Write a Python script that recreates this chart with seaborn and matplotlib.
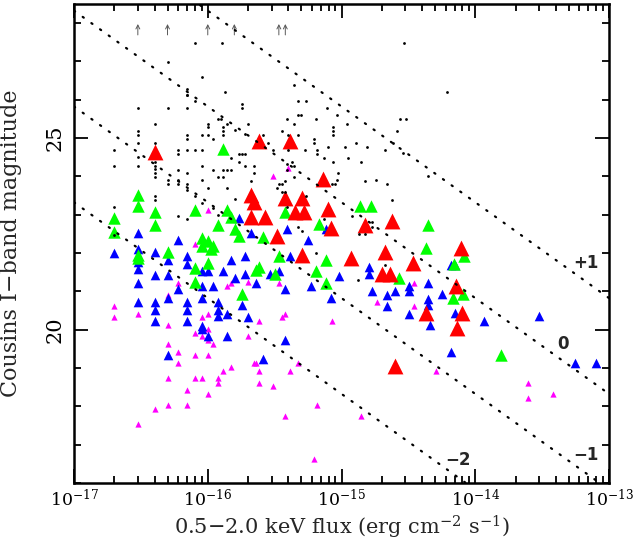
import numpy as np
import pandas as pd
import matplotlib
matplotlib.use("Agg")
import matplotlib.pyplot as plt
import seaborn as sns
from matplotlib.ticker import LogLocator, MultipleLocator, FixedLocator

sns.set_style("ticks")
plt.rcParams["font.family"] = ["DejaVu Serif"]
plt.rcParams["mathtext.fontset"] = "dejavuserif"

# X-ray flux in units of 1e-16 erg/cm2/s, Cousins I magnitude
black_flux = [0.3, 0.5, 0.7, 0.7, 0.8, 1.35, 1.8, 1.8, 0.4, 0.3, 0.3, 0.3, 0.2, 0.2, 0.3, 0.3,
              0.4, 0.4, 0.4, 0.4, 0.4, 0.4, 0.2, 0.2, 0.6, 0.6, 0.6, 0.6, 0.6, 0.7, 0.7, 0.7, 0.7, 0.7, 0.7,
              0.9, 1.0, 1.0, 1.0, 0.9, 0.8, 0.9, 1.1, 1.2, 1.25, 1.3, 1.3, 1.3, 1.4, 1.3, 1.4, 1.5, 1.1,
              1.2, 1.3, 1.4, 1.5, 1.7, 1.8, 1.9, 1.7, 1.9, 1.6, 1.9, 2.0, 0.9, 1.0, 0.8, 0.9, 1.1, 1.2,
              1.6, 0.6, 0.7, 0.5, 0.5, 0.4, 0.4,
              4.7, 5.4, 7.8, 9.2, 4.7, 5.0, 3.9, 4.4, 6.5, 11.0, 8.7, 8.7, 8.7, 3.6, 4.0, 4.7, 6.2, 6.2,
              7.9, 10.6, 12.9, 15.6, 30.5, 25.8, 24.3, 21.0, 2.6, 2.8, 3.1, 4.0, 5.3, 6.6, 6.6, 7.4, 8.6,
              11.1, 14.0, 15.0, 24.0, 2.2, 2.2, 2.1, 3.9, 4.3, 4.4, 3.9, 4.4, 3.8, 3.4, 3.6, 3.3, 5.4,
              8.5, 8.9, 9.4, 9.2, 3.9, 4.7, 5.1, 7.4, 13.5, 17.0, 17.0, 12.0, 29.4, 62.0, 27.5, 29.0,
              44.0, 22.0, 18.0, 15.0, 1.28, 0.8, 0.5, 0.9, 0.7, 0.7, 4.4, 3.6, 6.4, 21.0, 13.3, 3.8]
black_mag = [25.79, 25.79, 25.79, 26.13, 25.98, 26.19, 25.88, 25.79, 25.38, 25.18, 25.09, 24.88,
             24.68, 24.28, 24.50, 24.28, 24.88, 24.38, 24.28, 23.99, 23.48, 23.38, 23.19, 22.47,
             24.68, 24.59, 24.18, 23.90, 23.80, 25.09, 24.98, 24.68, 24.10, 23.80, 23.64,
             25.09, 25.37, 25.28, 25.09, 24.68, 24.68, 24.28, 24.98, 25.50, 25.50, 25.28, 25.18,
             25.09, 25.37, 24.18, 24.18, 24.18, 24.18, 23.99, 23.99, 23.69, 24.49, 24.59, 24.59,
             24.59, 24.38, 24.28, 25.20, 25.10, 25.38, 23.90, 23.69, 23.48, 23.30, 23.17, 23.00,
             23.40, 22.98, 22.90, 23.90, 23.80, 24.20, 24.10,
             25.98, 25.98, 25.79, 25.59, 25.59, 25.59, 25.49, 25.38, 25.49, 25.38, 25.28, 25.18,
             25.09, 25.18, 25.09, 25.09, 24.98, 24.88, 24.78, 24.78, 24.88, 24.78, 25.49, 25.18,
             24.88, 24.68, 25.09, 24.88, 24.68, 24.68, 24.68, 24.68, 24.58, 24.48, 24.38, 24.48,
             24.38, 23.89, 23.38, 24.28, 24.09, 23.89, 24.32, 24.38, 24.28, 24.18, 23.99, 23.89,
             23.79, 23.79, 23.69, 23.48, 23.79, 23.79, 24.09, 23.90, 23.19, 22.69, 22.58, 22.89,
             22.50, 22.81, 22.67, 22.98, 27.48, 26.19, 25.50, 24.60, 24.00, 23.80, 23.90, 22.50,
             27.48, 27.48, 26.98, 26.59, 26.29, 26.13, 26.39, 23.60, 22.00, 21.69, 21.30, 23.60]

magenta_flux = [0.2, 0.2, 0.3, 0.3, 0.4, 0.5, 0.5, 0.5, 0.5, 0.5, 0.6, 0.6, 0.6, 0.7, 0.7,
                0.8, 0.8, 0.8, 0.8, 0.9, 0.9, 0.9, 1.0, 1.0, 1.0, 1.0, 1.0, 1.0, 1.1, 1.2, 1.2,
                1.3, 1.4, 1.5, 1.5, 2.0, 2.0, 2.2, 2.3, 2.4, 2.4, 2.4, 3.1, 3.1, 3.4, 3.6, 3.8,
                3.8, 4.0, 4.1, 4.7, 6.6, 6.2, 8.5, 14.0, 18.5, 35.0, 35.0, 51.0, 250.0, 250.0, 380.0]
magenta_mag = [20.62, 20.32, 20.42, 17.53, 17.93, 20.91, 20.12, 19.62, 18.73, 18.04, 21.23, 19.42,
               19.12, 18.43, 18.04, 22.23, 19.92, 19.33, 18.73, 20.32, 19.83, 18.73, 23.12, 20.42,
               20.01, 19.72, 19.33, 18.32, 19.62, 18.73, 18.61, 18.93, 21.14, 21.23, 19.03, 21.25,
               19.83, 19.12, 19.12, 20.23, 18.93, 18.61, 24.00, 18.52, 21.23, 20.32, 20.42, 17.75,
               24.21, 18.93, 19.12, 18.04, 16.62, 20.23, 17.75, 20.73, 20.62, 21.23, 18.93, 18.61,
               18.22, 18.32]

blue_flux = [0.2, 0.3, 0.3, 0.3, 0.3, 0.3, 0.3, 0.4, 0.4, 0.4, 0.4, 0.4, 0.5, 0.5, 0.5, 0.5,
             0.6, 0.6, 0.7, 0.7, 0.7, 0.7, 0.7, 0.9, 0.9, 0.9, 0.9, 0.9, 1.0, 1.0, 1.1, 1.2, 1.2,
             1.2, 1.3, 1.4, 1.4, 1.5, 1.6, 1.7, 1.8, 1.9, 1.9, 2.0, 2.1, 2.3, 2.6, 2.9, 3.4, 3.8,
             3.8, 3.9, 4.1, 5.6, 5.9, 7.6, 8.4, 9.5, 16.0, 16.0, 17.0, 22.0, 22.0, 25.0, 32.0,
             32.0, 32.0, 44.0, 44.0, 44.0, 46.0, 56.0, 66.0, 70.0, 70.0, 66.0, 117.0, 300.0,
             560.0, 800.0]
blue_mag = [22.01, 22.52, 22.10, 21.77, 21.59, 21.23, 20.73, 22.02, 21.43, 20.73, 20.52, 20.23,
            21.83, 21.43, 20.82, 19.33, 22.34, 21.05, 21.92, 21.72, 20.73, 20.52, 20.23, 21.53,
            21.14, 20.82, 20.10, 20.01, 21.54, 19.83, 21.14, 20.73, 20.52, 20.35, 21.53, 20.41,
            19.83, 21.83, 21.36, 22.92, 20.64, 21.92, 21.45, 20.34, 22.52, 21.23, 19.24, 21.45,
            21.52, 21.05, 19.72, 22.63, 21.92, 22.34, 21.14, 22.63, 20.84, 21.41, 21.63, 21.45,
            21.02, 20.91, 20.62, 21.02, 21.14, 21.02, 20.42, 21.23, 20.80, 20.64, 20.12, 20.93,
            21.68, 21.68, 20.44, 19.42, 20.23, 20.35, 19.12, 19.12]

green_flux = [1.29, 0.3, 0.3, 0.4, 0.4, 0.2, 0.2, 0.8, 1.4, 1.5, 1.2, 1.6, 1.7, 3.8, 2.6, 6.8,
              13.8, 16.5, 44.0, 43.0, 69.0, 82.0, 68.0, 81.0, 157.0, 27.0, 0.9, 1.0, 1.1, 0.9,
              1.05, 0.5, 0.3, 0.3, 0.8, 1.0, 0.8, 1.8, 2.3, 2.4, 3.2, 3.4, 6.5, 7.6, 7.6]
green_mag = [24.72, 23.51, 23.23, 23.06, 22.73, 22.92, 22.54, 23.13, 23.13, 22.94, 22.73, 22.63,
             22.45, 23.06, 22.43, 22.75, 23.23, 23.23, 22.72, 22.13, 21.72, 21.92, 20.84, 20.93,
             19.33, 21.35, 22.40, 22.31, 22.18, 22.18, 22.10, 22.04, 21.95, 21.86, 21.62, 21.74,
             21.25, 20.93, 21.56, 21.63, 21.45, 21.92, 21.54, 21.83, 21.23]

red_flux = [0.4, 2.4, 4.1, 7.3, 2.1, 2.2, 3.8, 5.1, 2.1, 2.7, 4.5, 5.2, 7.9, 8.3, 3.3, 5.1,
            11.8, 15.0, 24.0, 21.0, 20.0, 23.0, 34.0, 78.0, 72.0, 79.0, 43.0, 73.0, 25.0]
red_mag = [24.64, 24.93, 24.93, 23.94, 23.51, 23.33, 23.44, 23.44, 22.94, 22.94, 23.06, 23.06,
           23.15, 22.65, 22.45, 21.95, 21.86, 22.73, 22.84, 22.04, 21.45, 21.45, 21.75, 22.13,
           21.13, 20.44, 20.44, 20.05, 19.06]

# sources with lower limits (upper arrows), flux in 1e-16
limit_flux = [0.3, 0.5, 1.0, 1.58, 3.4, 3.8]

# log(fx/fopt) reference lines
ratio_levels = [1, 0, -1, -2]
ratio_labels = ["+1", "0", "\u22121", "\u22122"]
ratio_const = 5.67

x_decades = [1e-17, 1e-16, 1e-15, 1e-14, 1e-13]

def frame(flux, mag):
    return pd.DataFrame({"flux": np.array(flux) * 1e-16, "mag": mag})

fig = plt.figure(figsize=(6.42, 5.45), dpi=100)
ax = fig.add_axes([0.1153, 0.1138, 0.8333, 0.8789])

sns.scatterplot(data=frame(magenta_flux, magenta_mag), x="flux", y="mag", marker="^",
                color="#ff00ff", s=20, linewidth=0, ax=ax, zorder=2)
sns.scatterplot(data=frame(blue_flux, blue_mag), x="flux", y="mag", marker="^",
                color="#0000ff", s=48, linewidth=0, ax=ax, zorder=3)
sns.scatterplot(data=frame(green_flux, green_mag), x="flux", y="mag", marker="^",
                color="#00ff00", s=80, linewidth=0, ax=ax, zorder=4)
sns.scatterplot(data=frame(red_flux, red_mag), x="flux", y="mag", marker="^",
                color="#ff0000", s=130, linewidth=0, ax=ax, zorder=5)
sns.scatterplot(data=frame(black_flux, black_mag), x="flux", y="mag", marker="o",
                color="black", s=4, linewidth=0, ax=ax, zorder=6)

fx = np.logspace(-17, -13, 50)
for lev in ratio_levels:
    ax.plot(fx, 2.5 * (lev - np.log10(fx) - ratio_const), color="black", lw=1.6,
            linestyle=(0, (0.6, 4.2)), dash_capstyle="round", zorder=7)

label_pos = [(6.7e-14, 21.73), (4.5e-14, 19.63), (6.7e-14, 16.72), (7.4e-15, 16.61)]
for (lx, ly), txt in zip(label_pos, ratio_labels):
    ax.text(lx, ly, txt, ha="center", va="center", fontsize=12, fontweight="bold",
            family=["DejaVu Sans"], zorder=8)

for f in limit_flux:
    ax.annotate("", xy=(f * 1e-16, 28.05), xytext=(f * 1e-16, 27.62),
                arrowprops=dict(arrowstyle="->", color="0.35", lw=0.7, mutation_scale=7))

ax.set_xscale("log")
ax.set_xlim(1e-17, 1e-13)
ax.set_ylim(16, 28.5)
ax.xaxis.set_major_locator(FixedLocator(x_decades))
ax.yaxis.set_major_locator(MultipleLocator(5))
ax.yaxis.set_minor_locator(MultipleLocator(1))
ax.xaxis.set_minor_locator(LogLocator(base=10, subs=np.arange(2, 10)))

ax.tick_params(which="both", direction="in", top=True, right=True, width=1.3, colors="black")
ax.tick_params(which="major", length=10)
ax.tick_params(axis="x", which="major", labelsize=12.5, pad=4)
ax.tick_params(axis="y", which="major", labelsize=15, labelrotation=90, pad=7)
ax.tick_params(which="minor", length=5)
for lab in ax.get_yticklabels():
    lab.set_va("center")
for sp in ax.spines.values():
    sp.set_linewidth(1.8)
    sp.set_color("black")

ax.set_xlabel("0.5\u22122.0 keV flux (erg cm$^{-2}$ s$^{-1}$)", fontsize=15, va="center")
ax.xaxis.set_label_coords(0.5, -0.092)
ax.set_ylabel("Cousins I\u2212band magnitude", fontsize=16, va="center")
ax.yaxis.set_label_coords(-0.117, 0.5)

fig.savefig("out.png", dpi=100)
